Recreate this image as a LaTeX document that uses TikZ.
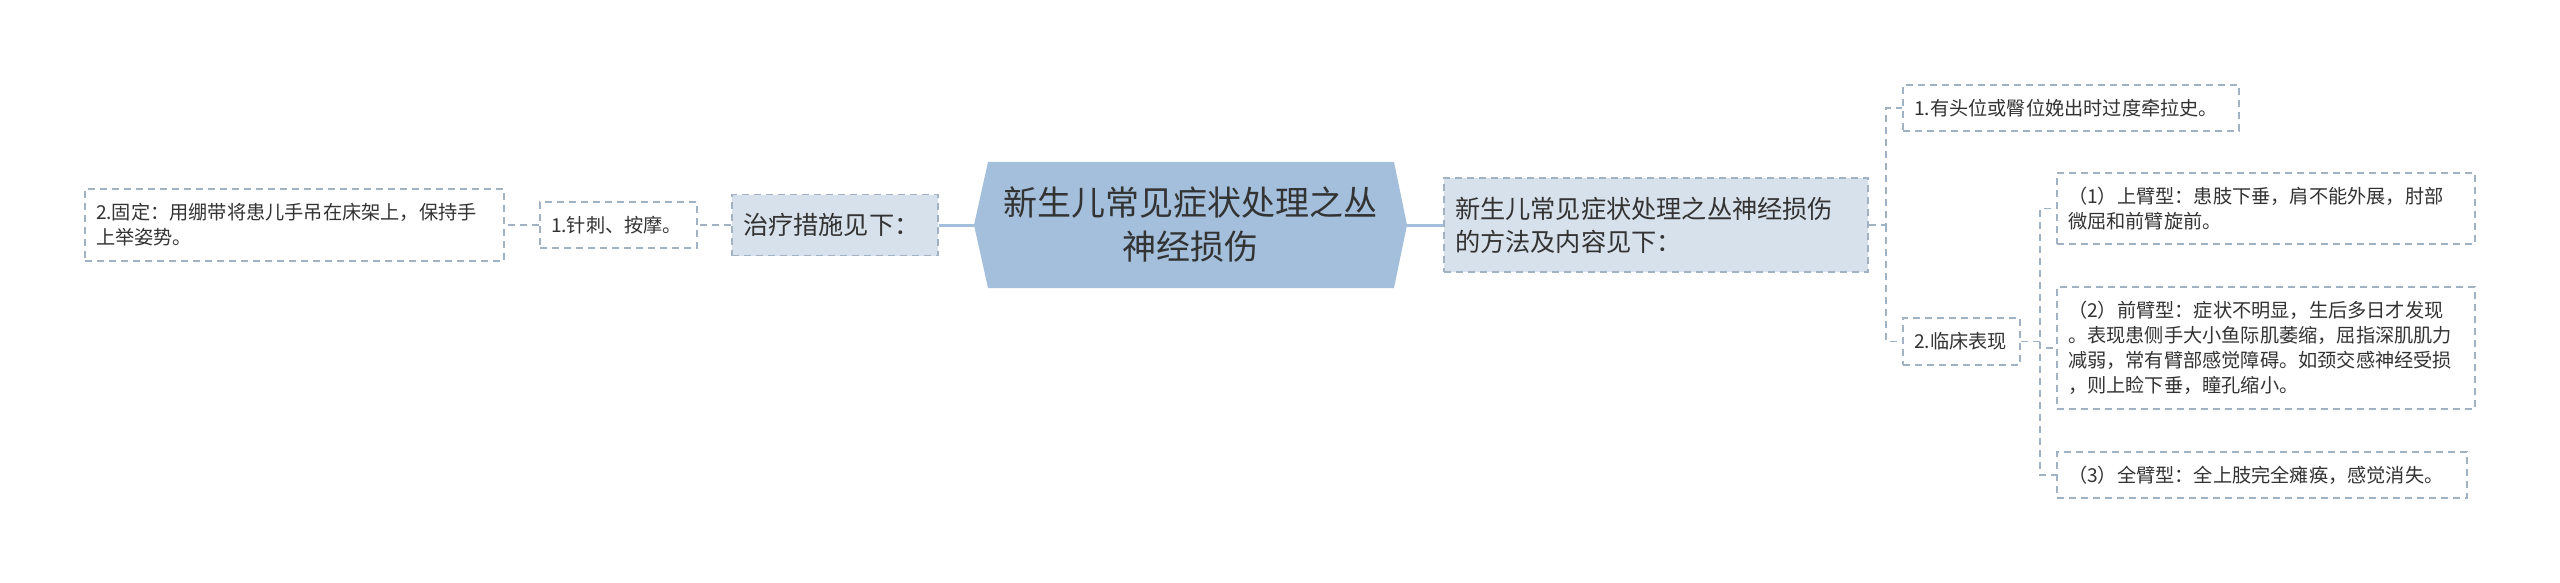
\documentclass[tikz,border=0pt]{standalone}
\usepackage{fontspec}
\setmainfont{Noto Sans CJK SC}
\usetikzlibrary{backgrounds}
\definecolor{hexfill}{RGB}{163,191,219}
\definecolor{boxfill}{RGB}{214,225,235}
\definecolor{bordc}{RGB}{160,178,196}
\definecolor{textc}{RGB}{51,51,51}
\newcommand\smallf{\fontsize{9.6}{12.5}\selectfont}
\newcommand\medf{\fontsize{12.6}{16.5}\selectfont}
\newcommand\bigf{\fontsize{17}{22}\selectfont}
\tikzset{
  base/.style={text=textc, inner xsep=5.5pt, inner ysep=0pt, align=left, rectangle},
  leafbox/.style={base, draw=bordc, fill=white, line width=0.75pt, dash pattern=on 3.5pt off 2.5pt, font=\smallf},
  midbox/.style={base, draw=bordc, fill=boxfill, line width=0.75pt, dash pattern=on 3.5pt off 2.5pt, font=\medf},
  hexnode/.style={text=textc, inner sep=0pt, align=center, font=\bigf, minimum width=216.5pt, minimum height=63pt, text width=200pt},
  dline/.style={draw=bordc, line width=0.75pt, dash pattern=on 3.5pt off 2.5pt},
  sline/.style={draw=hexfill, line width=1.5pt}
}
\begin{document}
\begin{tikzpicture}[x=0.5pt,y=-0.5pt]
\useasboundingbox (0,0) rectangle (2560,583);
% center
\node[hexnode] (hex) at (1190.5,225) {新生儿常见症状处理之丛\\神经损伤};
\begin{scope}[on background layer]
\fill[hexfill] (974,225) -- (988,162) -- (1394,162) -- (1407,225) -- (1394,288) -- (988,288) -- cycle;
\end{scope}
% left branch
\node[midbox, text width=92pt, minimum height=30.5pt] (treat) at (835,225) {治疗措施见下：};
\node[leafbox, text width=67.5pt, minimum height=23pt] (acu) at (618.5,225) {1.针刺、按摩。};
\node[leafbox, text width=198.5pt, minimum height=36pt] (fix) at (294.5,225) {2.固定：用绷带将患儿手吊在床架上，保持手\\上举姿势。};
% right branch
\node[midbox, text width=201pt, minimum height=47pt] (method) at (1656,225) {新生儿常见症状处理之丛神经损伤\\的方法及内容见下：};
\node[leafbox, text width=157pt, minimum height=23pt] (cause) at (2071,108) {1.有头位或臀位娩出时过度牵拉史。};
\node[leafbox, text width=47.5pt, minimum height=23.5pt] (clin) at (1961.5,341.5) {2.临床表现};
\node[leafbox, text width=198pt, minimum height=35.5pt] (t1) at (2266,208.5) {（1）上臂型：患肢下垂，肩不能外展，肘部\\微屈和前臂旋前。};
\node[leafbox, text width=198pt, minimum height=61pt] (t2) at (2266,348) {（2）前臂型：症状不明显，生后多日才发现\\。表现患侧手大小鱼际肌萎缩，屈指深肌肌力\\减弱，常有臂部感觉障碍。如颈交感神经受损\\，则上睑下垂，瞳孔缩小。};
\node[leafbox, text width=194pt, minimum height=23pt] (t3) at (2262,475) {（3）全臂型：全上肢完全瘫痪，感觉消失。};
% junctions
\coordinate (j1) at (1886,225);
\coordinate (j2) at (2040,341.5);
% connectors
\begin{scope}[on background layer]
\draw[sline] (hex.west) -- (treat.east);
\draw[sline] (hex.east) -- (method.west);
\end{scope}
\draw[dline] (treat.west) -- (acu.east);
\draw[dline] (acu.west) -- (fix.east);
\draw[dline] (method.east) -- (j1) |- (cause.west);
\draw[dline] (j1) |- (clin.west);
\draw[dline] (clin.east) -- (j2) |- (t1.west);
\draw[dline] (j2) |- (t2.west);
\draw[dline] (j2) |- (t3.west);
\end{tikzpicture}
\end{document}
